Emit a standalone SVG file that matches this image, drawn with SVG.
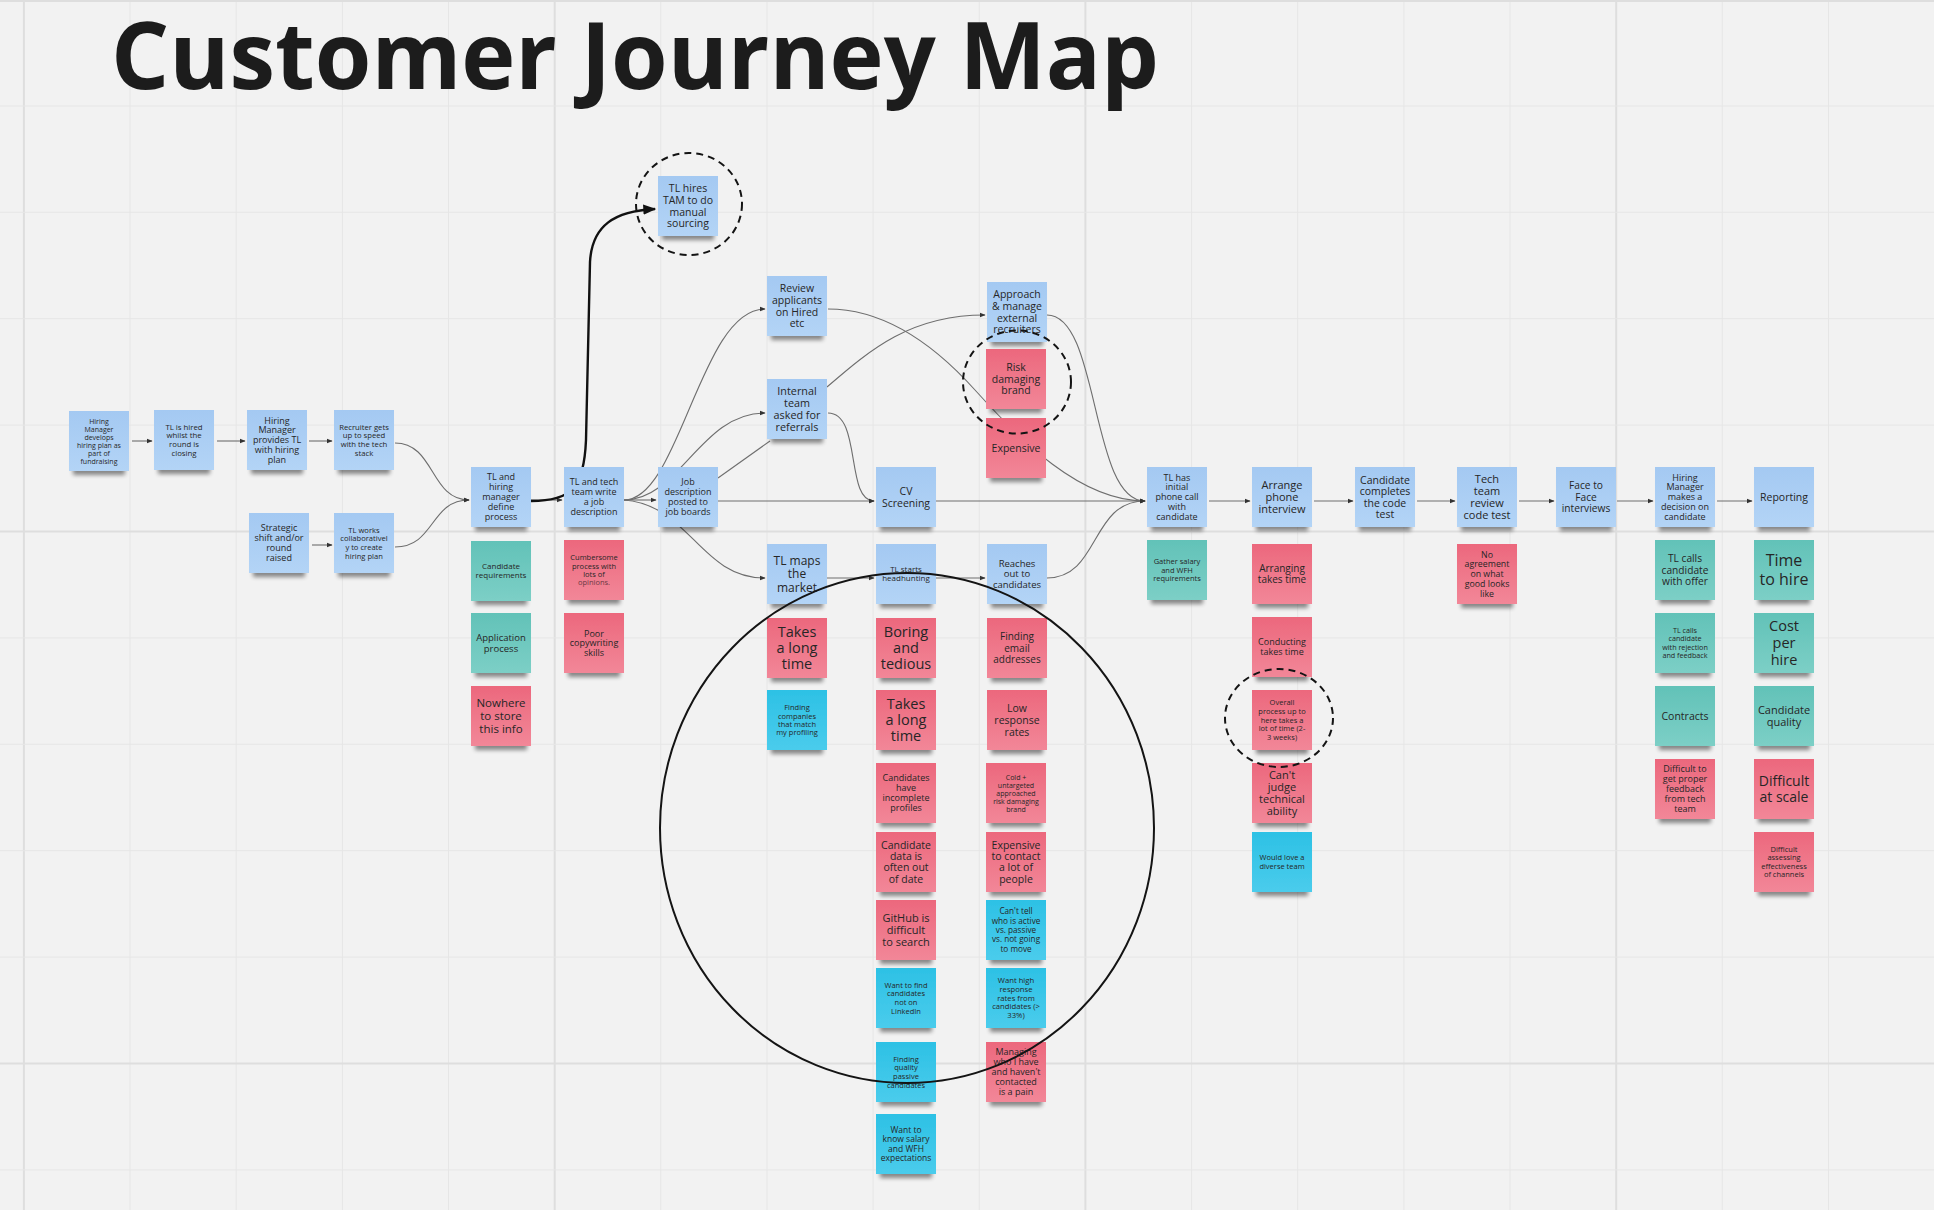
<svg xmlns="http://www.w3.org/2000/svg" width="1934" height="1210" viewBox="0 0 1934 1210">
<defs>
<style>
.grid line{stroke:#e6e6e6;stroke-width:1}
.grid line.mj{stroke:#dedede;stroke-width:2}
.note rect{filter:url(#sh)}
.b{fill:url(#gb)}.t{fill:url(#gt)}.r{fill:url(#gr)}.c{fill:url(#gc)}
.note text{font-family:"Open Sans","Liberation Sans",sans-serif;text-anchor:middle;fill:#262626}
.cn path{fill:none;stroke:#6e6e6e;stroke-width:1.1;marker-end:url(#ah)}
.cn path.nm{marker-end:none}
.cn path.thick{stroke:#111;stroke-width:2.4;marker-end:url(#ahk)}
.ann ellipse{fill:none;stroke:#141414;stroke-width:2}
.ann ellipse.d{stroke-dasharray:7 5}
</style>
<linearGradient id="gb" x1="0" y1="0" x2="0" y2="1"><stop offset="0" stop-color="#a4c9f2"/><stop offset="1" stop-color="#b3d4f6"/></linearGradient>
<linearGradient id="gt" x1="0" y1="0" x2="0" y2="1"><stop offset="0" stop-color="#62c2b8"/><stop offset="1" stop-color="#7ccfc6"/></linearGradient>
<linearGradient id="gr" x1="0" y1="0" x2="0" y2="1"><stop offset="0" stop-color="#ec687d"/><stop offset="1" stop-color="#f28798"/></linearGradient>
<linearGradient id="gc" x1="0" y1="0" x2="0" y2="1"><stop offset="0" stop-color="#2dc1e5"/><stop offset="1" stop-color="#4accec"/></linearGradient>
<filter id="sh" x="-20%" y="-20%" width="140%" height="150%">
<feMorphology in="SourceAlpha" operator="erode" radius="4 1" result="e"/>
<feOffset in="e" dy="5" result="o"/>
<feGaussianBlur in="o" stdDeviation="2" result="bl"/>
<feComponentTransfer in="bl" result="s"><feFuncA type="linear" slope="0.45"/></feComponentTransfer>
<feMerge><feMergeNode in="s"/><feMergeNode in="SourceGraphic"/></feMerge>
</filter>
<marker id="ah" viewBox="0 0 10 10" refX="9" refY="5" markerWidth="6" markerHeight="6" markerUnits="userSpaceOnUse" orient="auto"><path d="M0,1 L10,5 L0,9 z" fill="#333"/></marker>
<marker id="ahk" viewBox="0 0 10 10" refX="9" refY="5" markerWidth="13" markerHeight="13" markerUnits="userSpaceOnUse" orient="auto"><path d="M0,1 L10,5 L0,9 z" fill="#111"/></marker>
</defs>
<rect x="0" y="0" width="1934" height="1210" fill="#f2f2f2"/>
<g class="grid">
<line class="mj" x1="23.9" y1="0" x2="23.9" y2="1210"/>
<line x1="130" y1="0" x2="130" y2="1210"/>
<line x1="236.2" y1="0" x2="236.2" y2="1210"/>
<line x1="342.4" y1="0" x2="342.4" y2="1210"/>
<line x1="448.5" y1="0" x2="448.5" y2="1210"/>
<line class="mj" x1="554.7" y1="0" x2="554.7" y2="1210"/>
<line x1="660.8" y1="0" x2="660.8" y2="1210"/>
<line x1="767" y1="0" x2="767" y2="1210"/>
<line x1="873.1" y1="0" x2="873.1" y2="1210"/>
<line x1="979.3" y1="0" x2="979.3" y2="1210"/>
<line class="mj" x1="1085.4" y1="0" x2="1085.4" y2="1210"/>
<line x1="1191.6" y1="0" x2="1191.6" y2="1210"/>
<line x1="1297.7" y1="0" x2="1297.7" y2="1210"/>
<line x1="1403.9" y1="0" x2="1403.9" y2="1210"/>
<line x1="1510" y1="0" x2="1510" y2="1210"/>
<line class="mj" x1="1616.2" y1="0" x2="1616.2" y2="1210"/>
<line x1="1722.3" y1="0" x2="1722.3" y2="1210"/>
<line x1="1828.5" y1="0" x2="1828.5" y2="1210"/>
<line class="mj" x1="0" y1="1" x2="1934" y2="1"/>
<line x1="0" y1="106" x2="1934" y2="106"/>
<line x1="0" y1="212.3" x2="1934" y2="212.3"/>
<line x1="0" y1="318.7" x2="1934" y2="318.7"/>
<line x1="0" y1="425.1" x2="1934" y2="425.1"/>
<line class="mj" x1="0" y1="531.5" x2="1934" y2="531.5"/>
<line x1="0" y1="637.9" x2="1934" y2="637.9"/>
<line x1="0" y1="744.3" x2="1934" y2="744.3"/>
<line x1="0" y1="850.7" x2="1934" y2="850.7"/>
<line x1="0" y1="957.1" x2="1934" y2="957.1"/>
<line class="mj" x1="0" y1="1063.5" x2="1934" y2="1063.5"/>
<line x1="0" y1="1169.9" x2="1934" y2="1169.9"/>
</g>
<text id="title" x="111" y="89" font-family="'Open Sans','Liberation Sans',sans-serif" font-weight="700" font-size="93" fill="#1c1c1c" textLength="1048" lengthAdjust="spacingAndGlyphs">Customer Journey Map</text>

<g id="connectors" class="cn">
<path d="M132,441 L152,441"/>
<path d="M217,441 L245,441"/>
<path d="M309,441 L332,441"/>
<path d="M312,545 L332,545"/>
<path d="M395,443 C435,443 430,500 469,500"/>
<path d="M395,547 C435,547 430,500 469,500"/>
<path d="M531,500 L562,500"/>
<path d="M624,500 L656,500"/>
<path d="M624,500 C680,500 700,309 765,309"/>
<path d="M624,500 C680,500 700,413 765,413"/>
<path d="M624,500 C690,505 700,578 765,578"/>
<path class="nm" d="M718,478 L770,441"/>
<path d="M718,501 L874,501"/>
<path d="M828,413 C862,413 845,501 874,501"/>
<path d="M828,309 C880,309 930,340 975,390 S1080,501 1145,501"/>
<path d="M827,387 C870,350 910,315 985,315"/>
<path d="M1047,315 C1100,315 1090,501 1145,501"/>
<path d="M936,501 L1145,501"/>
<path d="M1047,578 C1100,578 1090,501 1145,501"/>
<path d="M827,578 L874,578"/>
<path d="M936,578 L985,578"/>
<path d="M1209,501 L1250,501"/>
<path d="M1314,501 L1353,501"/>
<path d="M1417,501 L1455,501"/>
<path d="M1519,501 L1554,501"/>
<path d="M1617,501 L1653,501"/>
<path d="M1717,501 L1752,501"/>
<path class="thick" d="M531,501 C572,501 584,488 586,440 L590,262 C592,225 615,211 655,209"/>
</g>

<g id="nodes">
<g id="n-hm-develops" class="note"><rect class="b" x="69" y="411" width="60" height="60"/><text font-size="7" y="423.5"><tspan x="99">Hiring</tspan><tspan x="99" dy="8">Manager</tspan><tspan x="99" dy="8">develops</tspan><tspan x="99" dy="8">hiring plan as</tspan><tspan x="99" dy="8">part of</tspan><tspan x="99" dy="8">fundraising</tspan></text></g>
<g id="n-tl-hired" class="note"><rect class="b" x="154" y="410" width="60" height="60"/><text font-size="7.8" y="429.8"><tspan x="184">TL is hired</tspan><tspan x="184" dy="8.6">whilst the</tspan><tspan x="184" dy="8.6">round is</tspan><tspan x="184" dy="8.6">closing</tspan></text></g>
<g id="n-hm-provides" class="note"><rect class="b" x="247" y="410" width="60" height="60"/><text font-size="9" y="423.5"><tspan x="277">Hiring</tspan><tspan x="277" dy="9.8">Manager</tspan><tspan x="277" dy="9.8">provides TL</tspan><tspan x="277" dy="9.8">with  hiring</tspan><tspan x="277" dy="9.8">plan</tspan></text></g>
<g id="n-recruiter" class="note"><rect class="b" x="334" y="410" width="60" height="60"/><text font-size="7.7" y="429.8"><tspan x="364">Recruiter gets</tspan><tspan x="364" dy="8.6">up to speed</tspan><tspan x="364" dy="8.6">with the tech</tspan><tspan x="364" dy="8.6">stack</tspan></text></g>
<g id="n-strategic" class="note"><rect class="b" x="249" y="513" width="60" height="60"/><text font-size="9" y="531.4"><tspan x="279">Strategic</tspan><tspan x="279" dy="9.8">shift and/or</tspan><tspan x="279" dy="9.8">round</tspan><tspan x="279" dy="9.8">raised</tspan></text></g>
<g id="n-tl-works" class="note"><rect class="b" x="334" y="513" width="60" height="60"/><text font-size="7.6" y="532.7"><tspan x="364">TL works</tspan><tspan x="364" dy="8.7">collaborativel</tspan><tspan x="364" dy="8.7">y to create</tspan><tspan x="364" dy="8.7">hiring plan</tspan></text></g>
<g id="n-define-process" class="note"><rect class="b" x="471" y="467" width="60" height="60"/><text font-size="9" y="480.2"><tspan x="501">TL and</tspan><tspan x="501" dy="10">hiring</tspan><tspan x="501" dy="10">manager</tspan><tspan x="501" dy="10">define</tspan><tspan x="501" dy="10">process</tspan></text></g>
<g id="n-job-desc" class="note"><rect class="b" x="564" y="467" width="60" height="60"/><text font-size="9" y="485.2"><tspan x="594">TL and tech</tspan><tspan x="594" dy="10">team write</tspan><tspan x="594" dy="10">a job</tspan><tspan x="594" dy="10">description</tspan></text></g>
<g id="n-tam" class="note"><rect class="b" x="658" y="176" width="60" height="60"/><text font-size="10.5" y="192.1"><tspan x="688">TL hires</tspan><tspan x="688" dy="11.7">TAM to do</tspan><tspan x="688" dy="11.7">manual</tspan><tspan x="688" dy="11.7">sourcing</tspan></text></g>
<g id="n-jd-posted" class="note"><rect class="b" x="658" y="467" width="60" height="60"/><text font-size="9" y="485.2"><tspan x="688">Job</tspan><tspan x="688" dy="10">description</tspan><tspan x="688" dy="10">posted to</tspan><tspan x="688" dy="10">job boards</tspan></text></g>
<g id="n-review" class="note"><rect class="b" x="767" y="276" width="60" height="60"/><text font-size="10.5" y="292.1"><tspan x="797">Review</tspan><tspan x="797" dy="11.7">applicants</tspan><tspan x="797" dy="11.7">on Hired</tspan><tspan x="797" dy="11.7">etc</tspan></text></g>
<g id="n-internal" class="note"><rect class="b" x="767" y="379" width="60" height="60"/><text font-size="10.8" y="394.8"><tspan x="797">Internal</tspan><tspan x="797" dy="12">team</tspan><tspan x="797" dy="12">asked for</tspan><tspan x="797" dy="12">referrals</tspan></text></g>
<g id="n-approach" class="note"><rect class="b" x="987" y="282" width="60" height="60"/><text font-size="10.5" y="298.1"><tspan x="1017">Approach</tspan><tspan x="1017" dy="11.7">&amp; manage</tspan><tspan x="1017" dy="11.7">external</tspan><tspan x="1017" dy="11.7">recruiters</tspan></text></g>
<g id="n-cv" class="note"><rect class="b" x="876" y="467" width="60" height="60"/><text font-size="10.5" y="494.8"><tspan x="906">CV</tspan><tspan x="906" dy="11.7">Screening</tspan></text></g>
<g id="n-tl-maps" class="note"><rect class="b" x="767" y="544" width="60" height="60"/><text font-size="12" y="564.9"><tspan x="797">TL maps</tspan><tspan x="797" dy="13.3">the</tspan><tspan x="797" dy="13.3">market</tspan></text></g>
<g id="n-headhunting" class="note"><rect class="b" x="876" y="544" width="60" height="60"/><text font-size="8" y="572.3"><tspan x="906">TL starts</tspan><tspan x="906" dy="9">headhunting</tspan></text></g>
<g id="n-reaches" class="note"><rect class="b" x="987" y="544" width="60" height="60"/><text font-size="9.5" y="566.8"><tspan x="1017">Reaches</tspan><tspan x="1017" dy="10.5">out to</tspan><tspan x="1017" dy="10.5">candidates</tspan></text></g>
<g id="n-tl-phone" class="note"><rect class="b" x="1147" y="467" width="60" height="60"/><text font-size="9" y="480.6"><tspan x="1177">TL has</tspan><tspan x="1177" dy="9.8">initial</tspan><tspan x="1177" dy="9.8">phone call</tspan><tspan x="1177" dy="9.8">with</tspan><tspan x="1177" dy="9.8">candidate</tspan></text></g>
<g id="n-arrange" class="note"><rect class="b" x="1252" y="467" width="60" height="60"/><text font-size="11" y="488.7"><tspan x="1282">Arrange</tspan><tspan x="1282" dy="12.2">phone</tspan><tspan x="1282" dy="12.2">interview</tspan></text></g>
<g id="n-code-test" class="note"><rect class="b" x="1355" y="467" width="60" height="60"/><text font-size="10.5" y="483.5"><tspan x="1385">Candidate</tspan><tspan x="1385" dy="11.5">completes</tspan><tspan x="1385" dy="11.5">the code</tspan><tspan x="1385" dy="11.5">test</tspan></text></g>
<g id="n-tech-review" class="note"><rect class="b" x="1457" y="467" width="60" height="60"/><text font-size="11" y="482.7"><tspan x="1487">Tech</tspan><tspan x="1487" dy="12.1">team</tspan><tspan x="1487" dy="12.1">review</tspan><tspan x="1487" dy="12.1">code test</tspan></text></g>
<g id="n-f2f" class="note"><rect class="b" x="1556" y="467" width="60" height="60"/><text font-size="10.2" y="489.4"><tspan x="1586">Face to</tspan><tspan x="1586" dy="11.2">Face</tspan><tspan x="1586" dy="11.2">interviews</tspan></text></g>
<g id="n-hm-decision" class="note"><rect class="b" x="1655" y="467" width="60" height="60"/><text font-size="9" y="480.6"><tspan x="1685">Hiring</tspan><tspan x="1685" dy="9.8">Manager</tspan><tspan x="1685" dy="9.8">makes a</tspan><tspan x="1685" dy="9.8">decision on</tspan><tspan x="1685" dy="9.8">candidate</tspan></text></g>
<g id="n-reporting" class="note"><rect class="b" x="1754" y="467" width="60" height="60"/><text font-size="10.5" y="500.7"><tspan x="1784">Reporting</tspan></text></g>

<g id="n-cand-req" class="note"><rect class="t" x="471" y="541" width="60" height="60"/><text font-size="8" y="569.3"><tspan x="501">Candidate</tspan><tspan x="501" dy="9">requirements</tspan></text></g>
<g id="n-app-proc" class="note"><rect class="t" x="471" y="613" width="60" height="60"/><text font-size="9.5" y="641"><tspan x="501">Application</tspan><tspan x="501" dy="10.7">process</tspan></text></g>
<g id="n-nowhere" class="note"><rect class="r" x="471" y="686" width="60" height="60"/><text font-size="11.5" y="707.3"><tspan x="501">Nowhere</tspan><tspan x="501" dy="12.7">to store</tspan><tspan x="501" dy="12.7">this info</tspan></text></g>
<g id="n-cumbersome" class="note"><rect class="r" x="564" y="540" width="60" height="60"/><text font-size="7.5" y="560.2"><tspan x="594">Cumbersome</tspan><tspan x="594" dy="8.3">process with</tspan><tspan x="594" dy="8.3">lots of</tspan><tspan x="594" dy="8.3" fill="#6b3a44">opinions.</tspan></text></g>
<g id="n-poor" class="note"><rect class="r" x="564" y="613" width="60" height="60"/><text font-size="9" y="636.5"><tspan x="594">Poor</tspan><tspan x="594" dy="9.7">copywriting</tspan><tspan x="594" dy="9.7">skills</tspan></text></g>
<g id="n-risk" class="note"><rect class="r" x="986" y="349" width="60" height="60"/><text font-size="10.5" y="371.4"><tspan x="1016">Risk</tspan><tspan x="1016" dy="11.3">damaging</tspan><tspan x="1016" dy="11.3">brand</tspan></text></g>
<g id="n-expensive" class="note"><rect class="r" x="986" y="418" width="60" height="60"/><text font-size="10.5" y="451.7"><tspan x="1016">Expensive</tspan></text></g>
<g id="n-takes-1" class="note"><rect class="r" x="767" y="618" width="60" height="60"/><text font-size="14.5" y="637.1"><tspan x="797">Takes</tspan><tspan x="797" dy="16">a long</tspan><tspan x="797" dy="16">time</tspan></text></g>
<g id="n-finding-companies" class="note"><rect class="c" x="767" y="690" width="60" height="60"/><text font-size="7.5" y="710.2"><tspan x="797">Finding</tspan><tspan x="797" dy="8.3">companies</tspan><tspan x="797" dy="8.3">that match</tspan><tspan x="797" dy="8.3">my profiling</tspan></text></g>
<g id="n-boring" class="note"><rect class="r" x="876" y="618" width="60" height="60"/><text font-size="14.5" y="637.4"><tspan x="906">Boring</tspan><tspan x="906" dy="15.7">and</tspan><tspan x="906" dy="15.7">tedious</tspan></text></g>
<g id="n-takes-2" class="note"><rect class="r" x="876" y="690" width="60" height="60"/><text font-size="14.5" y="709.1"><tspan x="906">Takes</tspan><tspan x="906" dy="16">a long</tspan><tspan x="906" dy="16">time</tspan></text></g>
<g id="n-incomplete" class="note"><rect class="r" x="876" y="763" width="60" height="60"/><text font-size="9" y="781.2"><tspan x="906">Candidates</tspan><tspan x="906" dy="10">have</tspan><tspan x="906" dy="10">incomplete</tspan><tspan x="906" dy="10">profiles</tspan></text></g>
<g id="n-out-of-date" class="note"><rect class="r" x="876" y="832" width="60" height="60"/><text font-size="10.5" y="848.8"><tspan x="906">Candidate</tspan><tspan x="906" dy="11.3">data is</tspan><tspan x="906" dy="11.3">often out</tspan><tspan x="906" dy="11.3">of date</tspan></text></g>
<g id="n-github" class="note"><rect class="r" x="876" y="900" width="60" height="60"/><text font-size="11" y="921.6"><tspan x="906">GitHub is</tspan><tspan x="906" dy="12.3">difficult</tspan><tspan x="906" dy="12.3">to search</tspan></text></g>
<g id="n-not-linkedin" class="note"><rect class="c" x="876" y="968" width="60" height="60"/><text font-size="7.5" y="987.6"><tspan x="906">Want to find</tspan><tspan x="906" dy="8.7">candidates</tspan><tspan x="906" dy="8.7">not on</tspan><tspan x="906" dy="8.7">LinkedIn</tspan></text></g>
<g id="n-passive" class="note"><rect class="c" x="876" y="1042" width="60" height="60"/><text font-size="7.5" y="1061.6"><tspan x="906">Finding</tspan><tspan x="906" dy="8.7">quality</tspan><tspan x="906" dy="8.7">passive</tspan><tspan x="906" dy="8.7">candidates</tspan></text></g>
<g id="n-salary" class="note"><rect class="c" x="876" y="1114" width="60" height="60"/><text font-size="8.5" y="1133"><tspan x="906">Want to</tspan><tspan x="906" dy="9.3">know salary</tspan><tspan x="906" dy="9.3">and WFH</tspan><tspan x="906" dy="9.3">expectations</tspan></text></g>
<g id="n-email" class="note"><rect class="r" x="987" y="618" width="60" height="60"/><text font-size="10" y="640.2"><tspan x="1017">Finding</tspan><tspan x="1017" dy="11.3">email</tspan><tspan x="1017" dy="11.3">addresses</tspan></text></g>
<g id="n-low-resp" class="note"><rect class="r" x="987" y="690" width="60" height="60"/><text font-size="10.5" y="711.7"><tspan x="1017">Low</tspan><tspan x="1017" dy="12">response</tspan><tspan x="1017" dy="12">rates</tspan></text></g>
<g id="n-cold" class="note"><rect class="r" x="986" y="763" width="60" height="60"/><text font-size="7" y="779.5"><tspan x="1016">Cold +</tspan><tspan x="1016" dy="8">untargeted</tspan><tspan x="1016" dy="8">approached</tspan><tspan x="1016" dy="8">risk damaging</tspan><tspan x="1016" dy="8">brand</tspan></text></g>
<g id="n-exp-contact" class="note"><rect class="r" x="986" y="832" width="60" height="60"/><text font-size="10.5" y="848.8"><tspan x="1016">Expensive</tspan><tspan x="1016" dy="11.3">to contact</tspan><tspan x="1016" dy="11.3">a lot of</tspan><tspan x="1016" dy="11.3">people</tspan></text></g>
<g id="n-cant-tell" class="note"><rect class="c" x="986" y="900" width="60" height="60"/><text font-size="8.2" y="914.3"><tspan x="1016">Can't tell</tspan><tspan x="1016" dy="9.3">who is active</tspan><tspan x="1016" dy="9.3">vs. passive</tspan><tspan x="1016" dy="9.3">vs. not going</tspan><tspan x="1016" dy="9.3">to move</tspan></text></g>
<g id="n-want-high" class="note"><rect class="c" x="986" y="968" width="60" height="60"/><text font-size="7.7" y="983.3"><tspan x="1016">Want high</tspan><tspan x="1016" dy="8.7">response</tspan><tspan x="1016" dy="8.7">rates from</tspan><tspan x="1016" dy="8.7">candidates (&gt;</tspan><tspan x="1016" dy="8.7">33%)</tspan></text></g>
<g id="n-managing" class="note"><rect class="r" x="986" y="1042" width="60" height="60"/><text font-size="9" y="1055.2"><tspan x="1016">Managing</tspan><tspan x="1016" dy="10">who I have</tspan><tspan x="1016" dy="10">and haven't</tspan><tspan x="1016" dy="10">contacted</tspan><tspan x="1016" dy="10">is a pain</tspan></text></g>
<g id="n-gather" class="note"><rect class="t" x="1147" y="540" width="60" height="60"/><text font-size="7.5" y="563.9"><tspan x="1177">Gather salary</tspan><tspan x="1177" dy="8.7">and WFH</tspan><tspan x="1177" dy="8.7">requirements</tspan></text></g>
<g id="n-arranging" class="note"><rect class="r" x="1252" y="544" width="60" height="60"/><text font-size="10" y="572"><tspan x="1282">Arranging</tspan><tspan x="1282" dy="11">takes time</tspan></text></g>
<g id="n-conducting" class="note"><rect class="r" x="1252" y="617" width="60" height="60"/><text font-size="9" y="645.2"><tspan x="1282">Conducting</tspan><tspan x="1282" dy="10">takes time</tspan></text></g>
<g id="n-overall" class="note"><rect class="r" x="1252" y="690" width="60" height="60"/><text font-size="7.5" y="705.2"><tspan x="1282">Overall</tspan><tspan x="1282" dy="8.7">process up to</tspan><tspan x="1282" dy="8.7">here takes a</tspan><tspan x="1282" dy="8.7">lot of time (2-</tspan><tspan x="1282" dy="8.7">3 weeks)</tspan></text></g>
<g id="n-cant-judge" class="note"><rect class="r" x="1252" y="763" width="60" height="60"/><text font-size="11" y="778.6"><tspan x="1282">Can't</tspan><tspan x="1282" dy="12.2">judge</tspan><tspan x="1282" dy="12.2">technical</tspan><tspan x="1282" dy="12.2">ability</tspan></text></g>
<g id="n-diverse" class="note"><rect class="c" x="1252" y="832" width="60" height="60"/><text font-size="7.5" y="860.3"><tspan x="1282">Would love a</tspan><tspan x="1282" dy="8.7">diverse team</tspan></text></g>
<g id="n-no-agree" class="note"><rect class="r" x="1457" y="544" width="60" height="60"/><text font-size="8.8" y="557.7"><tspan x="1487">No</tspan><tspan x="1487" dy="9.7">agreement</tspan><tspan x="1487" dy="9.7">on what</tspan><tspan x="1487" dy="9.7">good looks</tspan><tspan x="1487" dy="9.7">like</tspan></text></g>
<g id="n-offer" class="note"><rect class="t" x="1655" y="540" width="60" height="60"/><text font-size="10.2" y="562.3"><tspan x="1685">TL calls</tspan><tspan x="1685" dy="11.3">candidate</tspan><tspan x="1685" dy="11.3">with offer</tspan></text></g>
<g id="n-reject" class="note"><rect class="t" x="1655" y="613" width="60" height="60"/><text font-size="7.2" y="633.1"><tspan x="1685">TL calls</tspan><tspan x="1685" dy="8.3">candidate</tspan><tspan x="1685" dy="8.3">with rejection</tspan><tspan x="1685" dy="8.3">and feedback</tspan></text></g>
<g id="n-contracts" class="note"><rect class="t" x="1655" y="686" width="60" height="60"/><text font-size="10.5" y="719.7"><tspan x="1685">Contracts</tspan></text></g>
<g id="n-feedback" class="note"><rect class="r" x="1655" y="759" width="60" height="60"/><text font-size="9" y="772.2"><tspan x="1685">Difficult to</tspan><tspan x="1685" dy="10">get proper</tspan><tspan x="1685" dy="10">feedback</tspan><tspan x="1685" dy="10">from tech</tspan><tspan x="1685" dy="10">team</tspan></text></g>
<g id="n-time" class="note"><rect class="t" x="1754" y="540" width="60" height="60"/><text font-size="16" y="566.2"><tspan x="1784">Time</tspan><tspan x="1784" dy="18.6">to hire</tspan></text></g>
<g id="n-cost" class="note"><rect class="t" x="1754" y="613" width="60" height="60"/><text font-size="14.5" y="631.4"><tspan x="1784">Cost</tspan><tspan x="1784" dy="16.6">per</tspan><tspan x="1784" dy="16.6">hire</tspan></text></g>
<g id="n-quality" class="note"><rect class="t" x="1754" y="686" width="60" height="60"/><text font-size="11" y="713.9"><tspan x="1784">Candidate</tspan><tspan x="1784" dy="12">quality</tspan></text></g>
<g id="n-scale" class="note"><rect class="r" x="1754" y="759" width="60" height="60"/><text font-size="14" y="786.3"><tspan x="1784">Difficult</tspan><tspan x="1784" dy="15.3">at scale</tspan></text></g>
<g id="n-assess" class="note"><rect class="r" x="1754" y="832" width="60" height="60"/><text font-size="7.5" y="851.9"><tspan x="1784">Difficult</tspan><tspan x="1784" dy="8.5">assessing</tspan><tspan x="1784" dy="8.5">effectiveness</tspan><tspan x="1784" dy="8.5">of channels</tspan></text></g>
</g>

<g id="annotations" class="ann">
<ellipse class="d" cx="689" cy="204" rx="53" ry="51"/>
<ellipse class="d" cx="1017" cy="382" rx="54" ry="51.5"/>
<ellipse class="d" cx="1279" cy="718" rx="54" ry="49"/>
<ellipse cx="907" cy="828" rx="247" ry="255"/>
</g>
</svg>
